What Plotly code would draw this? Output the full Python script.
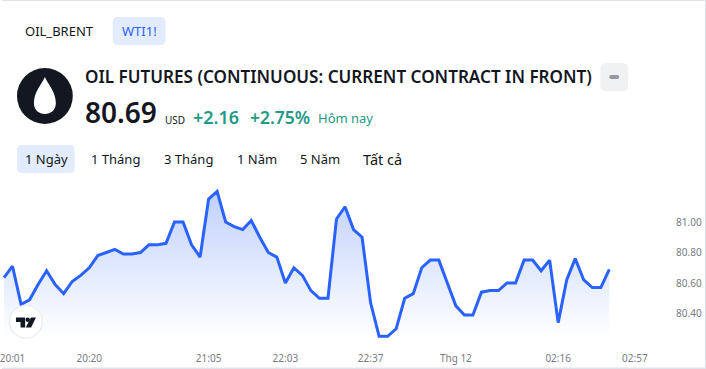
import plotly.graph_objects as go

prices = [80.635, 80.71, 80.46, 80.49, 80.59, 80.68, 80.59, 80.53, 80.61, 80.65, 80.70, 80.78,
          80.80, 80.82, 80.79, 80.79, 80.80, 80.85, 80.85, 80.86, 81.00, 81.00, 80.85, 80.77,
          81.15, 81.20, 81.00, 80.97, 80.95, 81.01, 80.90, 80.80, 80.77, 80.60, 80.70, 80.65,
          80.55, 80.50, 80.50, 81.02, 81.10, 80.95, 80.90, 80.47, 80.25, 80.25, 80.30, 80.50,
          80.53, 80.70, 80.75, 80.75, 80.60, 80.45, 80.39, 80.39, 80.54, 80.55, 80.55, 80.60,
          80.60, 80.75, 80.75, 80.68, 80.75, 80.34, 80.62, 80.76, 80.62, 80.57, 80.57, 80.69]
time_tick_index = [1, 10, 24, 33, 43, 53, 65, 74]
time_tick_labels = ["20:01", "20:20", "21:05", "22:03", "22:37", "Thg 12", "02:16", "02:57"]
price_ticks = [80.40, 80.60, 80.80, 81.00]
symbol_tabs = ["OIL_BRENT", "WTI1!"]
range_tabs = ["1 Ngày", "1 Tháng", "3 Tháng", "1 Năm", "5 Năm", "Tất cả"]
title_text = "OIL FUTURES (CONTINUOUS: CURRENT CONTRACT IN FRONT)"
last_price, currency, change_abs, change_pct, change_label = "80.69", "USD", "+2.16", "+2.75%", "Hôm nay"

W, H = 706, 369
FONT = "Noto Sans"
DARK = "#131722"
BLUE = "#2962FF"
GREEN = "#1f9a85"
GRAY = "#787b86"


def X(p):
    return p / W


def Y(p):
    return 1 - p / H


def rrect(x0, y0, x1, y1, r, fill):
    path = (f"M {X(x0 + r)} {Y(y0)} L {X(x1 - r)} {Y(y0)} Q {X(x1)} {Y(y0)} {X(x1)} {Y(y0 + r)} "
            f"L {X(x1)} {Y(y1 - r)} Q {X(x1)} {Y(y1)} {X(x1 - r)} {Y(y1)} "
            f"L {X(x0 + r)} {Y(y1)} Q {X(x0)} {Y(y1)} {X(x0)} {Y(y1 - r)} "
            f"L {X(x0)} {Y(y0 + r)} Q {X(x0)} {Y(y0)} {X(x0 + r)} {Y(y0)} Z")
    return dict(type="path", xref="paper", yref="paper", path=path, fillcolor=fill,
                line=dict(width=0), layer="below")


def circle(cx, cy, r, fill, line_color=None, layer="above"):
    return dict(type="circle", xref="paper", yref="paper", x0=X(cx - r), x1=X(cx + r),
                y0=Y(cy + r), y1=Y(cy - r), fillcolor=fill,
                line=dict(width=1 if line_color else 0, color=line_color or fill), layer=layer)


def poly(points, fill):
    path = "M " + " L ".join(f"{X(a)} {Y(b)}" for a, b in points) + " Z"
    return dict(type="path", xref="paper", yref="paper", path=path, fillcolor=fill,
                line=dict(width=0), layer="above")


def text(x, y, s, size, color, weight=400, anchor="left"):
    return dict(xref="paper", yref="paper", x=X(x), y=Y(y), text=s, showarrow=False,
                xanchor=anchor, yanchor="middle", xshift=0, borderpad=0, borderwidth=0,
                font=dict(family=FONT, size=size, color=color, weight=weight))


idx = list(range(len(prices)))
fig = go.Figure(go.Scatter(
    x=idx, y=prices, mode="lines", line=dict(color=BLUE, width=3, shape="linear"),
    fill="tozeroy",
    fillgradient=dict(type="vertical", start=81.22, stop=80.24,
                      colorscale=[[0, "rgba(190,208,252,1)"], [1, "rgba(255,255,255,1)"]]),
    hoverinfo="skip",
))

drop = (f"M {X(43)} {Y(77)} C {X(46)} {Y(84)} {X(54)} {Y(92)} {X(54)} {Y(103)} "
        f"C {X(54)} {Y(110)} {X(49)} {Y(114)} {X(43)} {Y(114)} "
        f"C {X(37)} {Y(114)} {X(32)} {Y(110)} {X(32)} {Y(103)} "
        f"C {X(32)} {Y(92)} {X(40)} {Y(84)} {X(43)} {Y(77)} Z")

shapes = [
    rrect(111, 17, 164, 45, 5, "#e3ecfd"),
    rrect(15, 145, 73, 173, 5, "#e3ecfd"),
    rrect(600, 63, 628, 91, 6, "#f0f1f3"),
    rrect(609, 75, 619, 79, 2, "#9598a1"),
    circle(43, 96, 28, "#131722"),
    dict(type="path", xref="paper", yref="paper", path=drop, fillcolor="#ffffff",
         line=dict(width=0), layer="above"),
    circle(24, 321.7, 16.5, "#ffffff", "#e6e8ee"),
    poly([(14, 317.5), (23.2, 317.5), (23.2, 327.6), (18.6, 327.6), (18.6, 322), (14, 322)], DARK),
    circle(25.8, 319.7, 2.2, DARK),
    poly([(29, 317.5), (34, 317.5), (29.2, 327.6), (23.8, 327.6)], DARK),
    dict(type="rect", xref="paper", yref="paper", x0=0, x1=1, y0=Y(1), y1=1,
         fillcolor="#e0e3eb", line=dict(width=0), layer="above"),
    dict(type="rect", xref="paper", yref="paper", x0=X(705), x1=1, y0=0, y1=1,
         fillcolor="#e0e3eb", line=dict(width=0), layer="above"),
    dict(type="rect", xref="paper", yref="paper", x0=0, x1=1, y0=0, y1=Y(367.5),
         fillcolor="#e0e3eb", line=dict(width=0), layer="above"),
]

range_x = [23, 89, 162, 236, 299, 362]
range_sizes = [13, 13, 13, 13, 13, 14.5]
annotations = [
    text(23, 31, symbol_tabs[0], 13, DARK),
    text(120, 31, symbol_tabs[1], 13, BLUE),
    text(83, 76, title_text, 17.1, DARK, 600),
    text(83, 112, last_price, 28, DARK, 600),
    text(163, 120, currency, 10, DARK),
    text(192, 117, change_abs, 18, GREEN, 600),
    text(249, 117, change_pct, 17.5, GREEN, 600),
    text(317, 118, change_label, 13, GREEN),
]
annotations += [text(x, 159, s, z, DARK) for x, s, z in zip(range_x, range_tabs, range_sizes)]

px_per_bar = 8.55
fig.update_layout(
    width=W, height=H, autosize=False,
    margin=dict(l=0, r=0, t=0, b=0, pad=0),
    paper_bgcolor="#ffffff", plot_bgcolor="#ffffff",
    showlegend=False,
    shapes=shapes, annotations=annotations,
    xaxis=dict(domain=[0, 670 / W], range=[-2 / px_per_bar, 668 / px_per_bar],
               showgrid=False, zeroline=False, showline=False,
               tickmode="array", tickvals=time_tick_index, ticktext=time_tick_labels,
               ticks="outside", ticklen=9, tickcolor="rgba(0,0,0,0)",
               ticklabeloverflow="allow",
               tickfont=dict(family=FONT, size=10, color=GRAY)),
    yaxis=dict(domain=[Y(340), Y(175)], range=[80.2262, 81.3082], side="right",
               showgrid=False, zeroline=False, showline=False,
               tickmode="array", tickvals=price_ticks, ticktext=[f"{v:.2f}" for v in price_ticks],
               ticks="outside", ticklen=3, tickcolor="rgba(0,0,0,0)",
               tickfont=dict(family=FONT, size=10, color=GRAY)),
)

fig.write_html("out.html", config=dict(displayModeBar=False),
               post_script="document.body.style.margin='0';document.body.style.overflow='hidden';")
